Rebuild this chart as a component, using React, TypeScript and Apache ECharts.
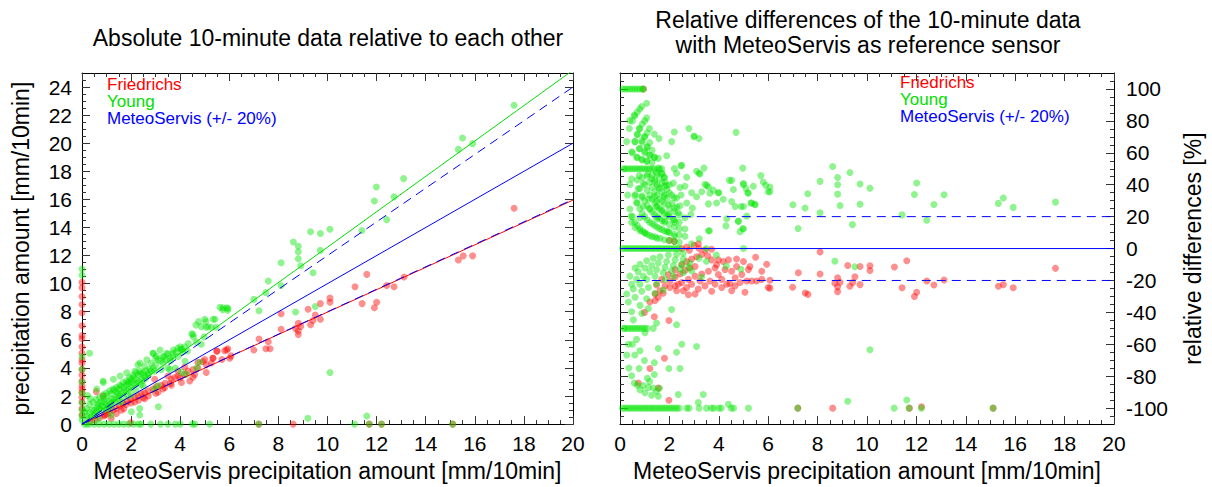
import React, { useEffect, useRef } from "react";
import * as echarts from "echarts";

const FONT = "'Liberation Sans', Arial, Helvetica, sans-serif";

// ---- tick labels ----
const xTicks = [0, 2, 4, 6, 8, 10, 12, 14, 16, 18, 20];
const leftYTicks = [0, 2, 4, 6, 8, 10, 12, 14, 16, 18, 20, 22, 24];
const rightYTicks = [-100, -80, -60, -40, -20, 0, 20, 40, 60, 80, 100];

// ---- left plot: absolute values [MeteoServis, sensor] ----
const leftFriedrichs: number[][] = [
  [17.6, 15.37], [15.33, 11.68], [15.53, 11.98], [15.91, 11.98], [11.6, 10.66], [11.12, 9.78], [12.41, 9.87],
  [12.71, 9.78], [13.12, 10.47], [11.41, 8.58], [11.91, 8.28], [12.0, 8.67], [10.1, 8.97], [10.1, 8.67],
  [9.71, 8.58], [9.21, 8.18], [9.5, 7.77], [9.41, 7.38], [9.71, 7.47], [9.31, 7.07], [8.81, 7.17], [8.7, 6.8],
  [8.81, 6.64], [8.81, 6.38], [8.91, 6.96], [8.11, 7.86], [8.11, 6.75], [7.21, 6.06], [7.59, 5.87], [7.49, 5.37],
  [7.66, 5.37], [7.0, 5.27],
  [5.81, 5.22], [6.02, 4.69], [6.07, 4.86], [5.89, 5.27], [5.34, 4.69], [5.33, 4.7], [5.27, 4.35], [5.06, 4.23],
  [4.93, 4.46], [4.72, 4.0], [4.52, 3.88], [4.59, 3.54], [4.32, 3.77], [4.18, 3.54], [3.91, 3.42], [3.77, 3.31],
  [3.64, 3.19], [3.39, 2.91], [3.23, 2.77], [3.03, 2.68], [2.89, 2.5], [2.69, 2.38], [2.55, 2.22], [2.42, 2.15],
  [2.28, 1.99], [2.15, 1.92], [1.98, 1.76], [1.85, 1.62], [1.67, 1.46], [1.53, 1.29], [1.4, 1.11], [1.26, 0.99],
  [1.13, 0.83], [0.92, 0.65], [0.72, 0.46], [0.52, 0.3], [0.31, 0.18], [0.58, 2.31], [0.86, 1.99], [3.37, 2.61],
  [3.64, 2.77], [4.05, 2.96], [4.39, 3.07], [2.96, 3.19], [3.5, 3.42], [4.18, 4.07], [3.91, 3.77], [1.6, 0.99],
  [1.4, 0.76], [2.15, 1.57], [2.55, 1.8], [3.1, 2.27], [1.19, 0.42], [5.0, 4.6], [5.5, 5.2], [5.7, 4.6],
  [5.94, 5.36], [5.49, 5.19], [4.72, 4.41], [4.52, 3.33], [5.06, 3.67], [4.0, 3.3], [3.0, 2.2], [2.5, 1.9],
  [2.0, 1.5], [1.8, 1.4], [1.0, 0.7], [0.9, 0.6], [1.7, 1.1], [2.3, 1.7], [2.7, 2.0], [3.3, 2.5], [3.6, 2.9],
  [0, 10.1], [0, 9.7], [0, 9.08], [0, 8.51], [0, 7.93], [0, 7.0], [0, 6.31], [0, 6.08], [0, 5.5], [0, 5.04],
  [0, 4.58], [0, 4.35], [0, 3.88], [0, 3.5], [0, 3.07], [0, 2.73], [0, 2.5], [0, 2.27], [0, 1.92], [0, 1.57],
  [0, 1.11], [0, 0.65],
  [7.2, 0], [8.6, 0], [11.7, 0], [12.2, 0], [15.1, 0], [1.98, 0.1],
];

const leftYoung: number[][] = [
  [17.6, 22.7], [15.33, 19.56], [15.5, 20.37], [15.91, 19.97], [13.1, 17.48], [11.99, 16.88], [11.91, 15.88],
  [12.71, 16.18], [12.41, 14.56], [11.4, 13.78], [10.1, 13.87], [9.71, 13.57], [9.31, 13.69], [8.61, 12.97],
  [8.81, 12.67], [8.81, 12.27], [8.81, 11.77], [8.91, 11.28], [9.71, 12.37], [9.41, 10.78], [8.11, 11.49],
  [8.11, 9.87], [7.59, 10.19], [7.49, 9.36], [7.0, 8.88], [7.21, 8.07], [8.7, 7.98], [9.5, 8.37], [10.1, 3.68],
  [5.89, 8.28], [5.62, 8.32], [5.73, 8.14], [5.93, 8.1], [5.74, 8.28], [5.95, 8.23], [5.42, 7.47], [5.34, 7.47],
  [5.0, 7.47], [5.05, 6.89], [4.86, 6.94], [4.64, 7.05], [4.75, 7.3], [5.05, 7.3], [5.13, 6.93], [5.27, 6.89],
  [5.47, 6.9], [4.47, 6.43], [4.54, 6.2], [4.52, 6.38], [4.97, 6.2], [4.33, 5.74], [4.66, 5.85], [4.86, 5.69],
  [4.06, 5.32], [4.0, 5.5], [4.18, 5.5], [4.05, 5.32], [3.84, 5.15], [3.72, 5.27], [3.71, 5.04], [3.45, 5.04],
  [3.5, 4.99], [3.18, 5.27], [3.34, 4.81], [3.3, 4.8], [3.57, 4.69], [3.91, 4.81], [2.9, 5.04], [3.03, 4.85],
  [2.89, 5.04], [3.0, 4.7], [3.1, 4.58], [2.64, 4.58], [3.3, 4.35], [2.82, 4.35], [2.36, 4.35], [2.55, 4.11],
  [2.28, 4.23], [2.76, 3.93], [2.35, 3.77], [2.16, 3.77], [2.48, 3.65], [2.21, 3.65], [1.82, 3.65], [2.08, 3.47],
  [1.55, 3.42], [1.94, 3.31], [1.28, 3.19], [1.81, 3.07], [1.87, 2.91], [1.67, 2.96], [0.87, 2.96], [1.53, 2.77],
  [1.4, 2.61], [1.26, 2.5], [0.6, 2.5], [1.13, 2.38], [0.99, 2.22], [0.86, 2.08], [0.23, 2.04], [0.72, 1.92],
  [0.33, 1.8], [0.58, 1.76], [0.45, 1.57], [0.31, 1.39], [0.18, 1.11], [0.11, 0.88], [0.31, 5.04], [0.86, 3.07],
  [2.42, 3.19], [2.01, 3.0], [2.55, 3.42], [2.96, 3.77], [3.23, 3.88], [3.5, 4.0], [3.58, 3.88], [3.8, 4.0],
  [4.2, 4.47], [4.67, 4.0], [4.8, 4.4], [4.05, 3.7], [4.25, 3.54], [3.1, 2.73], [2.96, 2.5], [3.11, 1.23],
  [2.35, 1.11], [2.35, 0.65], [2.01, 0.88], [1.6, 1.57], [1.87, 2.03], [1.47, 2.15], [1.19, 1.8], [1.33, 1.57],
  [0.92, 1.57], [0.65, 1.34], [1.06, 1.11], [0.79, 0.99], [0.52, 0.76], [0.38, 0.53], [0.24, 0.37], [0.65, 0.42],
  [1.19, 0.65], [1.0, 1.4], [1.1, 1.6], [1.2, 1.5], [1.3, 1.8], [1.4, 1.9], [1.5, 2.0], [1.6, 2.2], [1.7, 2.3],
  [1.8, 2.4], [1.9, 2.5], [2.0, 2.6], [2.1, 2.8], [2.2, 2.9], [2.3, 3.0], [2.4, 2.8], [2.5, 3.1], [2.6, 3.3],
  [2.7, 3.5], [0.5, 1.0], [0.6, 1.2], [0.7, 1.1], [0.8, 1.3], [0.9, 1.8], [1.0, 2.0], [1.1, 1.3], [1.2, 2.2],
  [1.3, 2.4], [1.4, 2.3], [1.5, 2.5], [1.6, 2.7], [1.7, 2.6], [1.8, 2.8], [1.9, 3.0], [2.0, 3.2], [2.1, 3.3],
  [2.2, 3.2], [2.3, 3.5], [2.4, 3.6], [2.6, 3.8], [2.7, 3.6], [2.8, 3.8], [2.9, 4.0], [3.0, 4.2], [3.2, 4.5],
  [3.4, 4.6], [3.6, 4.5], [3.7, 4.8], [3.9, 5.4], [4.1, 5.1], [4.3, 5.2], [0.2, 0.6], [0.3, 0.8], [0.4, 1.0],
  [0.5, 0.6], [0.6, 0.9], [0.7, 1.5], [0.8, 1.6], [0.9, 1.2], [1.0, 1.0], [1.2, 1.3], [1.5, 1.6], [1.7, 1.9],
  [2.0, 2.1], [2.2, 2.4], [2.5, 2.7],
  [0, 11.05], [0, 10.6], [0, 4.8], [0, 3.9], [0, 3.0], [0, 2.2], [0, 1.5], [0, 1.0], [0, 0.6], [0, 0.3],
  [0.1, 0], [0.2, 0], [0.3, 0], [0.5, 0], [0.7, 0], [0.9, 0], [1.1, 0], [1.3, 0], [1.5, 0], [1.7, 0], [1.9, 0],
  [2.1, 0], [2.3, 0], [2.4, 0], [2.8, 0], [3.2, 0], [3.5, 0], [3.8, 0], [4.0, 0], [4.5, 0], [4.6, 0], [5.2, 0],
  [7.2, 0], [11.1, 0], [11.7, 0], [12.2, 0], [15.1, 0], [9.2, 0.42], [11.6, 0.58],
];

// ---- right plot: relative differences [MeteoServis, %] ----
const rightFriedrichs: number[][] = [
  [0.95, 100], [2.2, 4.5], [2.0, 5.1], [3.17, 3], [2.5, 0], [2.81, -1], [3.44, -1], [3.71, -0.4], [3.2, 0],
  [2.7, 1], [3.0, 2], [3.55, -4.5], [3.71, -7.1], [3.98, -7.1], [4.18, -8.1], [4.39, -7.1], [4.72, -6.5],
  [5.0, -8.1], [5.26, -11.2], [5.49, -5.5], [5.94, -9.8], [5.74, -19.3], [6.0, -24.4], [5.06, -27.4],
  [4.52, -26.4], [5.13, -20.3], [4.86, -21.3], [4.45, -22], [4.12, -19.3], [3.98, -16.3], [3.71, -26.8],
  [3.44, -23.4], [3.17, -25.4], [3.04, -28.5], [2.77, -28.9], [2.56, -26.4], [2.29, -26.4], [2.36, -22.4],
  [2.02, -24.4], [1.75, -28], [1.55, -30.5], [1.42, -32.5], [1.21, -33.5], [0.99, -40], [1.39, -42.7],
  [1.98, -45.1], [1.21, -75.2], [0.74, -84.3], [1.55, -87.4], [1.98, -95.1], [1.8, -68.7],
  [1.42, -28.5], [1.62, -26.4], [1.82, -23.4], [2.02, -20.3], [2.23, -17.9], [2.43, -15.9], [2.63, -13.8],
  [2.83, -12.2], [3.04, -11.2], [2.23, -23.4], [2.5, -21.3], [2.77, -19.3], [3.04, -17.3], [3.31, -15.9],
  [3.58, -14.2], [3.85, -12.2], [2.5, -10.2], [2.7, -8.1], [2.9, -6.5], [3.1, -5.1], [3.31, -3.7], [2.23, -13.2],
  [1.96, -16.3], [1.69, -19.3], [1.48, -22.8], [2.7, -24.4], [2.9, -22.4], [3.24, -20.3], [3.64, -20.3],
  [3.85, -22.4], [4.12, -24.4], [4.32, -22.4], [4.66, -18.3], [4.66, -23.4], [4.93, -16.3], [5.33, -20.3],
  [5.53, -20.3], [5.74, -14.2], [4.52, -14.2], [4.25, -13.2], [3.91, -10.2], [5.2, -13.2], [4.72, -11.2],
  [8.1, -2.2], [7.22, -15.2], [8.1, -15.9], [6.07, -19.9], [6.07, -24.8], [6.99, -24.2], [7.5, -27.8],
  [7.61, -28.7], [8.7, -21.7], [8.81, -18.3], [8.91, -21.1], [8.81, -24], [8.81, -27], [9.22, -10.6],
  [9.31, -23.6], [9.42, -21.3], [9.51, -17.7], [9.72, -11.2], [9.72, -22.6], [10.12, -10.8], [10.12, -13.8],
  [11.11, -11.6], [11.42, -24.6], [11.61, -7.7], [11.92, -30.1], [12.01, -27.4], [12.42, -20.3], [12.71, -22.8],
  [13.12, -19.7], [15.32, -23.6], [15.52, -22.6], [15.92, -24.6], [17.63, -12.4],
  [7.2, -100], [8.61, -100], [11.72, -100], [12.21, -99.2], [15.11, -100],
];

const rightYoung: number[][] = [
  // row at +100
  [0.1, 100], [0.2, 100], [0.3, 100], [0.4, 100], [0.5, 100], [0.6, 100], [0.7, 100], [0.8, 100], [0.9, 100], [0.95, 100],
  // upper arcs and scatter
  [0.88, 89], [1.08, 91], [0.58, 83.7], [0.4, 80.3], [1.08, 81.9], [0.38, 75.2], [0.78, 75.2], [1.19, 75.2],
  [2.2, 73], [2.79, 75.2], [0.7, 71.5], [0.99, 70.1], [1.39, 71.7], [1.58, 68.9], [2.99, 70.1], [3.2, 68.9],
  [3.01, 70.5], [4.7, 72.8], [0.27, 67], [0.61, 67], [0.88, 67.5], [1.11, 64], [2.09, 67], [0.78, 62.6],
  [0.47, 60.6], [1.01, 61], [1.21, 58.5], [1.39, 57.3], [1.55, 56.5], [1.89, 58.1], [0.67, 57.3], [0.88, 55.9],
  [1.08, 54.9],
  [0.15, 50], [0.2, 50], [0.3, 50], [0.4, 50], [0.5, 50], [0.6, 50], [0.7, 50], [0.8, 50], [0.9, 50], [1.0, 50],
  [1.1, 50], [1.2, 50], [1.3, 50], [1.4, 50], [1.55, 50.4], [1.69, 50],
  [1.48, 47.8], [1.69, 47.2], [2.2, 50.2], [2.5, 52.2], [2.29, 47.2], [2.7, 44.7], [3.1, 48.4], [3.2, 47.2],
  [3.4, 50.4], [4.97, 50.4], [5.7, 45.7], [5.9, 39.6], [6.0, 35.6], [5.8, 41.7], [4.52, 42.7], [4.99, 40.2],
  [5.17, 35], [5.4, 39], [0.47, 43.7], [0.78, 45.7], [1.12, 46.7], [1.28, 43.7], [1.79, 44.7], [1.82, 41.7],
  [0.4, 40.2], [0.74, 37.6], [0.94, 40.7], [1.42, 41.7], [1.55, 38.2], [1.89, 39.6], [2.16, 41], [2.43, 38.2],
  [2.63, 39], [3.44, 40.2], [3.58, 38.6], [3.78, 36.6], [4.0, 35], [3.31, 35.6], [0.31, 33.5], [0.63, 33.9],
  [0.88, 32.1], [1.15, 30.9], [1.39, 32.5], [1.48, 29.5], [1.79, 32.5], [2.09, 33.5], [2.29, 31.5], [2.47, 33.5],
  [2.9, 35], [3.1, 32.5], [4.18, 30.9], [4.52, 29.5], [4.9, 26.4], [5.3, 28.5], [5.46, 27.8], [0.4, 24.8],
  [0.67, 28.9], [0.94, 26.4], [1.21, 24.8], [1.48, 26], [1.69, 24], [1.96, 27.4], [2.2, 25.4], [2.43, 26.8],
  [2.7, 28.5], [2.93, 25.4], [3.58, 28], [3.91, 28.5], [0.45, 20.3], [0.81, 19.3], [1.48, 18.7], [1.96, 21.3],
  [2.16, 17.9], [2.36, 22.4], [2.63, 19.3], [2.87, 21.3], [4.32, 18.7], [4.79, 17.3], [5.13, 20.3], [0.47, 16.3],
  [0.61, 13.2], [0.81, 11.2], [1.01, 9.6], [1.21, 8.1], [1.42, 7.3], [1.62, 6.5], [1.82, 17.3], [2.23, 16.3],
  [2.63, 12.2], [3.62, 11.2], [1.96, 10.6], [2.2, 7.7], [1.98, 5.1], [2.63, 7.7], [2.9, 3], [4.86, 10.6],
  [4.97, 12.6], [2.47, 51.8], [3.24, 46.7], [5.0, 40.7], [4.59, 37], [5.1, 37.6], [5.2, 34.6], [4.43, 42.7],
  [3.51, 39.6], [3.64, 34.6], [3.98, 35], [4.66, 26.4], [5.0, 26.4], [5.33, 28.5], [5.47, 27.4], [4.29, 14.2],
  [4.79, 16.9], [5.0, 12.2], [3.21, 6.1], [3.58, 11.2],
  [0.5, 20], [0.6, 16.5], [0.7, 14.5], [0.8, 12.5], [0.9, 11], [1.0, 10], [1.1, 9], [1.3, 7.5], [1.5, 6.5],
  [1.8, 5.5], [2.2, 4.5], [2.4, 4], [0.6, 33], [0.7, 28.5], [0.8, 25], [0.9, 22], [1.0, 20], [1.1, 18],
  [1.2, 16.5], [1.3, 15.5], [1.4, 14.5], [1.5, 13.5], [1.6, 12.5], [1.7, 12], [1.8, 11], [1.9, 10.5], [2.0, 10],
  [2.2, 9], [2.4, 8.5], [0.5, 60], [0.7, 43], [0.8, 37.5], [0.9, 33], [1.0, 30], [1.1, 27], [1.2, 25], [1.3, 23],
  [1.4, 21.5], [1.5, 20], [1.6, 19], [1.7, 17.5], [1.8, 16.5], [2.0, 15], [2.2, 13.5], [2.4, 12.5], [0.5, 80],
  [0.6, 67], [0.7, 57], [0.9, 44.5], [1.0, 40], [1.1, 36.5], [1.2, 33.5], [1.3, 31], [1.4, 28.5], [1.5, 26.5],
  [1.6, 25], [1.7, 23.5], [1.8, 22], [1.9, 21], [2.0, 20], [2.2, 18], [2.4, 16.5], [0.6, 83], [0.7, 71.5],
  [0.8, 62.5], [0.9, 55.5], [1.1, 45.5], [1.2, 41.5], [1.3, 38.5], [1.4, 35.5], [1.5, 33.5], [1.6, 31],
  [1.7, 29.5], [1.8, 28], [2.0, 25], [2.2, 23], [2.4, 21], [0.7, 85.5], [0.8, 75], [0.9, 66.5], [1.0, 60],
  [1.1, 54.5], [1.3, 46], [1.4, 43], [1.5, 40], [1.6, 37.5], [1.7, 35.5], [1.8, 33.5], [1.9, 31.5], [2.1, 28.5],
  [2.3, 26], [0.8, 87.5], [0.9, 78], [1.0, 70], [1.1, 63.5], [1.2, 58.5], [1.3, 54], [1.5, 46.5], [1.6, 44],
  [1.7, 41], [1.8, 39], [1.9, 37], [2.0, 35], [2.2, 32], [1.0, 80], [1.1, 72.5], [1.2, 66.5], [1.3, 61.5],
  [1.4, 57], [1.6, 50], [1.7, 47], [1.8, 44.5], [2.0, 40],
  // far upper
  [7.0, 27.4], [7.21, 12.6], [7.49, 25.4], [7.6, 34.3], [8.1, 42.1], [8.1, 22.4], [8.61, 51.4], [8.81, 44.5],
  [8.81, 40], [8.81, 34.1], [8.91, 27], [9.31, 47.6], [9.41, 15], [9.72, 40.4], [9.72, 27.8], [10.12, 37.8],
  [11.42, 21.1], [11.92, 33.9], [12.01, 41.1], [12.42, 17.7], [12.71, 27.6], [13.12, 33.7], [15.32, 28.3],
  [15.52, 31.7], [15.92, 25.8], [17.63, 29.1], [6.07, 38.6], [6.07, 35.6],
  // row at 0
  [0.1, 0], [0.2, 0], [0.3, 0], [0.4, 0], [0.5, 0], [0.6, 0], [0.7, 0], [0.8, 0], [0.9, 0], [1.0, 0], [1.1, 0],
  [1.2, 0], [1.3, 0], [1.4, 0], [1.5, 0], [1.6, 0], [1.7, 0], [1.8, 0], [1.9, 0], [2.0, 0], [2.1, 0], [2.2, 0],
  [2.3, 0], [2.4, 0], [3.5, 0], [5.0, 0],
  // lower arcs
  [0.61, -12.2], [0.81, -9.8], [1.08, -7.7], [1.35, -6.1], [1.62, -5.1], [1.96, -4.1], [2.29, -3.5], [2.56, -3],
  [0.4, -17.3], [0.74, -14.6], [1.01, -12.2], [1.28, -10.6], [1.55, -9.1], [1.89, -8.1], [2.23, -7.1], [2.56, -6.5],
  [0.47, -22.4], [0.67, -19.3], [0.94, -17.3], [1.21, -14.6], [1.48, -13.2], [1.82, -11.8], [2.16, -10.6],
  [2.5, -9.8], [2.83, -9.1], [0.27, -28.5], [0.54, -25.4], [0.81, -22.4], [1.08, -19.3], [1.42, -17.3],
  [1.75, -15.2], [2.09, -13.8], [2.43, -12.6], [2.77, -11.8], [0.34, -33.5], [0.61, -30.5], [0.88, -26.8],
  [1.15, -24.4], [1.48, -22], [1.82, -19.3], [2.16, -17.3], [2.56, -15.2], [0.47, -39.6], [0.81, -35.6],
  [1.08, -31.5], [1.42, -28], [1.75, -26], [0.54, -44.7], [0.88, -40.7], [1.15, -37.6], [2.09, -38.2],
  [1.48, -46.7], [2.29, -47.8], [3.2, -6], [3.5, -8], [3.9, -4], [4.3, -11], [4.9, -13], [2.9, -14], [3.3, -18],
  // row at -50
  [0.15, -50], [0.2, -50], [0.3, -50], [0.4, -50], [0.5, -50], [0.6, -50], [0.7, -50], [0.8, -50], [0.9, -50],
  [1.0, -50], [1.1, -50], [1.35, -50],
  [0.67, -56.9], [1.01, -52.8], [0.34, -60], [0.81, -64], [1.55, -62.6], [2.5, -60], [2.29, -65], [3.1, -61.4],
  [0.27, -66.7], [0.99, -70.1], [1.39, -71.5], [0.36, -74.8], [0.77, -75.2], [1.98, -75.2], [2.43, -75.2],
  [0.47, -79.7], [1.11, -81.3], [1.39, -78.9], [0.58, -84.3], [0.94, -85.8], [1.15, -87], [1.35, -87.4],
  [1.48, -89.4], [2.36, -91.5], [3.37, -91.5], [0.81, -88.4], [1.01, -90.4], [1.28, -91.9], [1.55, -92.5],
  [3.17, -96.5], [4.39, -97.6], [0.7, -85.7], [0.6, -66.7], [0.5, -60], [1.2, -83.3], [1.6, -87.5],
  [8.7, -7.9], [9.51, -11.4], [10.12, -63.4], [9.22, -95.7], [11.61, -94.9],
  // row at -100
  [0.1, -100], [0.2, -100], [0.3, -100], [0.4, -100], [0.5, -100], [0.6, -100], [0.7, -100], [0.8, -100],
  [0.9, -100], [1.0, -100], [1.1, -100], [1.2, -100], [1.3, -100], [1.4, -100], [1.5, -100], [1.6, -100],
  [1.7, -100], [1.8, -100], [1.9, -100], [2.0, -100], [2.1, -100], [2.2, -100], [2.3, -100], [2.4, -100],
  [2.7, -100], [2.8, -100], [3.2, -100], [3.5, -100], [3.7, -100], [3.8, -100], [4.0, -100], [4.1, -100],
  [4.5, -100], [4.6, -100], [5.2, -100], [7.2, -100], [11.1, -100], [11.7, -100], [12.2, -100], [15.1, -100],
];

// ---- reference / fit lines ----
const youngFitLine = [[0, 0], [20, 25.2]];
const refPlus20Line = [[0, 0], [20, 24]];
const refLine = [[0, 0], [20, 20]];
const refMinus20Line = [[0, 0], [20, 16]];
const friedrichsFitLine = [[0, 0], [20, 15.95]];
const relZeroLine = [[0, 0], [20, 0]];
const relPlus20Line = [[0.68, 20], [20, 20]];
const relMinus20Line = [[0.68, -20], [20, -20]];

const RED = "rgba(255,0,0,0.55)";
const GREEN = "rgba(0,230,0,0.55)";
const BLUE = "#0000ff";

function minorsOf(majors: number[], parts: number, lo: number, hi: number): number[] {
  const step = (majors[1] - majors[0]) / parts;
  const out: number[] = [];
  const start = majors[0] - step * parts;
  for (let v = start; v <= hi + 1e-9; v += step) {
    const r = Math.round(v * 1000) / 1000;
    if (r < lo - 1e-9 || r > hi + 1e-9) continue;
    if (majors.some((m) => Math.abs(m - r) < 1e-6)) continue;
    out.push(r);
  }
  return out;
}

const AX = "#000";

function axisGroup(
  dim: "x" | "y",
  gridIndex: number,
  min: number,
  max: number,
  majors: number[],
  minors: number[],
  labelSide: string,
  otherSide: string,
  name: string,
  nameGap: number,
  labelMargin: number
) {
  const base = {
    type: "value",
    gridIndex,
    min,
    max,
    splitLine: { show: false },
    axisPointer: { show: false },
  };
  const mk = (pos: string, ticks: number[], len: number, withLabel: boolean, withLine: boolean, withName: boolean) => ({
    ...base,
    position: pos,
    axisLine: { show: withLine, onZero: false, lineStyle: { color: AX, width: 1 } },
    axisTick: { show: true, inside: true, length: len, customValues: ticks, lineStyle: { color: "#333", width: 1 } },
    axisLabel: withLabel
      ? { show: true, customValues: majors, color: "#000", fontSize: 21, fontFamily: FONT, margin: labelMargin }
      : { show: false },
    name: withName ? name : "",
    nameLocation: "middle",
    nameGap,
    nameRotate: dim === "y" ? 90 : 0,
    nameTextStyle: { color: "#000", fontSize: 23, fontFamily: FONT },
  });
  return [
    mk(labelSide, majors, 8, true, true, true),
    mk(labelSide, minors, 4, false, false, false),
    mk(otherSide, majors, 8, false, true, false),
    mk(otherSide, minors, 4, false, false, false),
  ];
}

export default function App() {
  const ref = useRef<HTMLDivElement>(null);

  useEffect(() => {
    if (!ref.current) return;
    const chart = echarts.init(ref.current, undefined, { renderer: "svg" });

    const xMinors = minorsOf(xTicks, 4, 0, 20);
    const lyMinors = minorsOf(leftYTicks, 4, 0, 24.5);
    const ryMinors = minorsOf(rightYTicks, 4, -105, 105);

    const xName = "MeteoServis precipitation amount [mm/10min]";

    const xAxes = [
      ...axisGroup("x", 0, 0, 20, xTicks, xMinors, "bottom", "top", xName, 26, 9),
      ...axisGroup("x", 1, 0, 20, xTicks, xMinors, "bottom", "top", xName, 26, 9),
    ];
    const yAxes = [
      ...axisGroup("y", 0, 0, 25, leftYTicks, lyMinors, "left", "right", "precipitation amount [mm/10min]", 50, 10),
      ...axisGroup("y", 1, -110, 110, rightYTicks, ryMinors, "right", "left", "relative differences [%]", 67, 12),
    ];

    const scatter = (data: number[][], color: string, g: number) => ({
      type: "scatter",
      xAxisIndex: g * 4,
      yAxisIndex: g * 4,
      data,
      symbol: "circle",
      symbolSize: 7,
      itemStyle: { color },
      silent: true,
      z: 2,
    });
    const line = (data: number[][], color: string, dashed: boolean, g: number) => ({
      type: "line",
      xAxisIndex: g * 4,
      yAxisIndex: g * 4,
      data,
      symbol: "none",
      showSymbol: false,
      silent: true,
      clip: true,
      lineStyle: { color, width: 1, type: dashed ? [9, 6] : "solid" },
      z: 3,
    });

    const legend = (x: number, ys: number[]) => [
      { type: "text", x, y: ys[0], style: { text: "Friedrichs", fill: "#ff0000", font: `17px ${FONT}`, textVerticalAlign: "middle" } },
      { type: "text", x, y: ys[1], style: { text: "Young", fill: "#00e000", font: `17px ${FONT}`, textVerticalAlign: "middle" } },
      { type: "text", x, y: ys[2], style: { text: "MeteoServis (+/- 20%)", fill: "#0000ff", font: `17px ${FONT}`, textVerticalAlign: "middle" } },
    ];

    const title = (text: string, x: number, y: number) => ({
      type: "text",
      x,
      y,
      style: { text, fill: "#000", font: `23px ${FONT}`, textAlign: "center", textVerticalAlign: "middle" },
    });

    chart.setOption({
      animation: false,
      backgroundColor: "#ffffff",
      grid: [
        { left: 82, top: 73, width: 491, height: 360 },
        { left: 620, top: 73, width: 494, height: 360 },
      ],
      xAxis: xAxes,
      yAxis: yAxes,
      series: [
        scatter(leftFriedrichs, RED, 0),
        scatter(leftYoung, GREEN, 0),
        line(friedrichsFitLine, "#ff0000", false, 0),
        line(youngFitLine, "#00dd00", false, 0),
        line(refLine, BLUE, false, 0),
        line(refPlus20Line, BLUE, true, 0),
        line(refMinus20Line, BLUE, true, 0),
        scatter(rightFriedrichs, RED, 1),
        scatter(rightYoung, GREEN, 1),
        line(relZeroLine, BLUE, false, 1),
        line(relPlus20Line, BLUE, true, 1),
        line(relMinus20Line, BLUE, true, 1),
      ],
      graphic: [
        title("Absolute 10-minute data relative to each other", 328, 38),
        title("Relative differences of the 10-minute data", 868, 20),
        title("with MeteoServis as reference sensor", 868, 45),
        ...legend(107, [84.5, 101.5, 118.5]),
        ...legend(900, [82, 99, 116]),
      ],
    });

    return () => chart.dispose();
  }, []);

  return (
    <div
      ref={ref}
      style={{ position: "fixed", left: 0, top: 0, width: 1212, height: 487, background: "#fff" }}
    />
  );
}
